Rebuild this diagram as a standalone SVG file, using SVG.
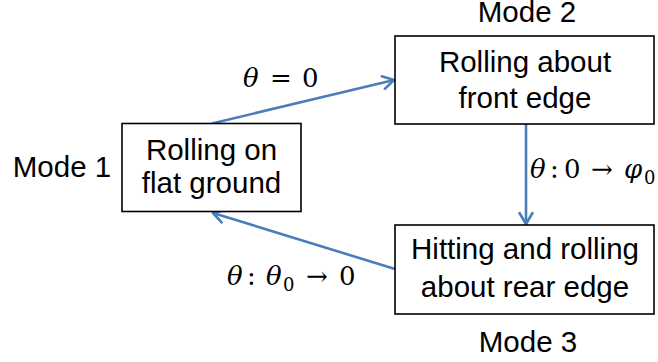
<svg xmlns="http://www.w3.org/2000/svg" width="658" height="362" viewBox="0 0 658 362">
<style>
.box{fill:#fff;stroke:#000;stroke-width:1.6}
.t{font-family:"Liberation Sans",Arial,sans-serif;font-size:29.5px;fill:#000;text-anchor:middle}
.m{font-family:"DejaVu Serif","Liberation Serif",serif;font-size:26px;fill:#000}
.i{font-style:italic}
.s{font-size:18px}
.c{fill:none;stroke:#4a7ebb;stroke-width:2.6}
</style>
<defs>
<marker id="ah" markerUnits="userSpaceOnUse" markerWidth="16" markerHeight="16" viewBox="0 0 16 16" refX="14" refY="8" orient="auto">
<path d="M3,1.5 L14,8 L3,14.5" fill="none" stroke="#4a7ebb" stroke-width="2.6" stroke-linecap="round" stroke-linejoin="round"/>
</marker>
</defs>
<g id="connectors">
<line class="c" x1="212" y1="123.5" x2="394" y2="80" marker-end="url(#ah)"/>
<line class="c" x1="526" y1="124" x2="526" y2="224" marker-end="url(#ah)"/>
<line class="c" x1="395" y1="269" x2="213" y2="213" marker-end="url(#ah)"/>
</g>
<g id="node1">
<rect class="box" x="122" y="123.5" width="179" height="88"/>
<text class="t" x="211.5" y="160">Rolling on</text>
<text class="t" x="211.5" y="193">flat ground</text>
</g>
<g id="node2">
<rect class="box" x="395" y="36" width="259" height="88"/>
<text class="t" x="525" y="72">Rolling about</text>
<text class="t" x="525" y="108">front edge</text>
</g>
<g id="node3">
<rect class="box" x="395" y="225" width="259" height="89"/>
<text class="t" x="525" y="259">Hitting and rolling</text>
<text class="t" x="525" y="297">about rear edge</text>
</g>
<g id="labels">
<text class="t" x="62" y="177">Mode 1</text>
<text class="t" x="527" y="22">Mode 2</text>
<text class="t" x="528" y="352">Mode 3</text>
<text class="m" y="87"><tspan class="i" x="243">θ</tspan><tspan x="270">=</tspan><tspan x="302">0</tspan></text>
<text class="m" y="178"><tspan class="i" x="530">θ</tspan><tspan x="550">:</tspan><tspan x="564">0</tspan><tspan x="591">→</tspan><tspan class="i" x="624">φ</tspan><tspan class="s" x="644" y="184">0</tspan></text>
<text class="m" y="285"><tspan class="i" x="227">θ</tspan><tspan x="247">:</tspan><tspan class="i" x="266">θ</tspan><tspan class="s" x="283" y="291">0</tspan><tspan x="306" y="285">→</tspan><tspan x="339">0</tspan></text>
</g>
</svg>
